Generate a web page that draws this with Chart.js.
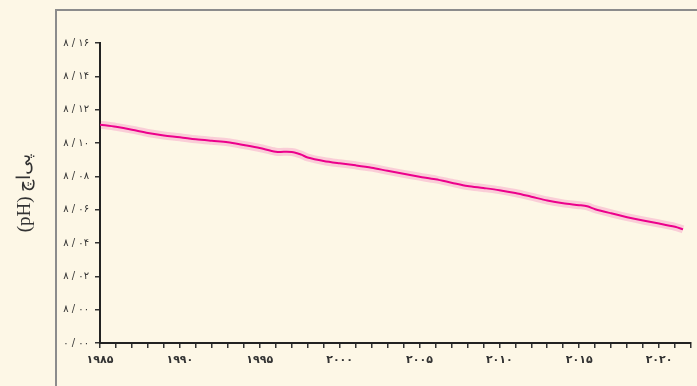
<!DOCTYPE html>
<html>
<head>
<meta charset="utf-8">
<script src="https://cdn.jsdelivr.net/npm/chart.js@4/dist/chart.umd.min.js"></script>
<style>
  html, body { margin: 0; padding: 0; background: #fdf7e6; }
  #wrap { position: relative; width: 697px; height: 386px; overflow: hidden; }
  #frame { position: absolute; left: 55px; top: 9px; width: 700px; height: 400px; border: 2px solid #8c8c8c; }
  #phChart { position: absolute; left: 0; top: 0; }
</style>
</head>
<body>
<div id="wrap">
  <div id="frame"></div>
  <canvas id="phChart" width="697" height="386"></canvas>
</div>
<script>
// yearly mean surface ocean pH
const years = [1985, 1986, 1987, 1988, 1989, 1990, 1991, 1992, 1993, 1994, 1995, 1996, 1997, 1997.6, 1998, 1999,
    2000, 2001, 2002, 2003, 2004, 2005, 2006, 2007, 2008, 2009, 2010, 2011, 2012, 2013, 2014, 2015, 2015.5,
    2016, 2017, 2018, 2019, 2020, 2021, 2021.5];
const phValues = [8.1110, 8.1097, 8.1080, 8.1060, 8.1045, 8.1035, 8.1022, 8.1013, 8.1005, 8.0988, 8.0970, 8.0948,
    8.0946, 8.0930, 8.0913, 8.0892, 8.0878, 8.0866, 8.0852, 8.0833, 8.0815, 8.0798, 8.0782, 8.0762, 8.0742,
    8.0730, 8.0717, 8.0700, 8.0678, 8.0655, 8.0638, 8.0627, 8.0620, 8.0603, 8.0578, 8.0555, 8.0535, 8.0517,
    8.0497, 8.0482];
const yTicks = [7.98, 8.00, 8.02, 8.04, 8.06, 8.08, 8.10, 8.12, 8.14, 8.16];
const axisTitle = '(pH) پی‌اچ';

const faDigits = '۰۱۲۳۴۵۶۷۸۹';
function toFa(s) {
    return String(s).replace(/[0-9]/g, d => faDigits[+d]).replace('.', ' / ');
}

const points = years.map((y, i) => ({ x: y, y: phValues[i] }));

const ctx = document.getElementById('phChart').getContext('2d');
const phChart = new Chart(ctx, {
    type: 'line',
    data: {
        datasets: [{
            data: points,
            borderColor: '#ec008c',
            borderWidth: 2,
            pointRadius: 0,
            tension: 0.3,
            order: 0
        }, {
            data: points,
            borderColor: 'rgba(236, 0, 140, 0.17)',
            borderWidth: 8,
            pointRadius: 0,
            tension: 0.3,
            order: 1
        }]
    },
    options: {
        responsive: false,
        animation: false,
        layout: { padding: { top: 43, right: 2, left: 0, bottom: 0 } },
        plugins: { legend: { display: false }, tooltip: { enabled: false } },
        scales: {
            x: {
                type: 'linear',
                min: 1985,
                max: 2022,
                afterBuildTicks: (scale) => {
                    scale.ticks = [];
                    for (let y = 1985; y <= 2022; y++) scale.ticks.push({ value: y });
                },
                ticks: {
                    autoSkip: false,
                    maxRotation: 0,
                    padding: 6,
                    color: '#333',
                    font: { family: 'DejaVu Sans', size: 11, weight: 'bold' },
                    callback: (v) => (v % 5 === 0 ? toFa(v) : '')
                },
                grid: { drawOnChartArea: false, tickLength: 5, color: '#333', lineWidth: 1.5 },
                border: { color: '#222', width: 2 },
                afterFit: (s) => { s.height = 43; }
            },
            y: {
                min: 7.98,
                max: 8.16,
                afterBuildTicks: (scale) => { scale.ticks = yTicks.map(v => ({ value: v })); },
                ticks: {
                    padding: 6,
                    color: '#333',
                    font: { family: 'DejaVu Sans', size: 10 },
                    callback: (v) => (v < 7.99 ? toFa('0.00') : toFa(v.toFixed(2)))
                },
                grid: { drawOnChartArea: false, tickLength: 5, color: '#333', lineWidth: 1.5 },
                border: { color: '#222', width: 2 },
                title: {
                    display: true,
                    text: axisTitle,
                    color: '#333',
                    font: { family: 'Liberation Serif', size: 19 },
                    padding: { top: 14, bottom: 0 }
                },
                afterFit: (s) => { s.width = 100; }
            }
        }
    }
});
</script>
</body>
</html>
